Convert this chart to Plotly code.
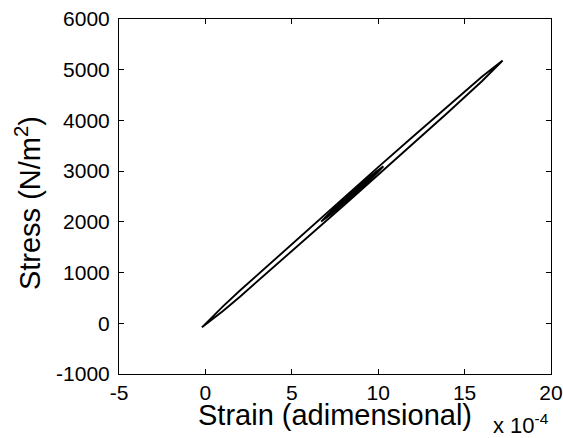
import plotly.graph_objects as go

# Main hysteresis loop (strain in units of 1e-4, stress in N/m^2)
main_strain = [-0.2, 1, 2, 4, 6, 8, 10, 12, 14, 16, 17.2,
               16, 14, 12, 10, 8, 6, 4, 2, 1, -0.2]
main_stress = [-80, 238, 525, 1120, 1719, 2324, 2929, 3536, 4148, 4772, 5180,
               4862, 4278, 3680, 3079, 2474, 1869, 1260, 645, 328, -80]

# Inner minor loops
loop1_strain = [8.5, 9.5, 10.3, 9.5, 8.5, 7.5, 6.7, 7.5, 8.5]
loop1_stress = [2515, 2815, 3094, 2890, 2590, 2285, 2006, 2210, 2515]
loop2_strain = [6.9, 8.0, 9.0, 10.1, 9.0, 8.0, 6.9]
loop2_stress = [2066, 2385, 2690, 3034, 2735, 2430, 2066]
loop3_strain = [7.2, 8.2, 9.3, 10.0, 9.3, 8.2, 7.2]
loop3_stress = [2157, 2455, 2790, 3004, 2825, 2500, 2157]

x_ticks = [-5, 0, 5, 10, 15, 20]
y_ticks = [-1000, 0, 1000, 2000, 3000, 4000, 5000, 6000]

fig = go.Figure()
for xs, ys in [(main_strain, main_stress), (loop1_strain, loop1_stress),
               (loop2_strain, loop2_stress), (loop3_strain, loop3_stress)]:
    fig.add_trace(go.Scatter(x=xs, y=ys, mode="lines",
                             line=dict(color="black", width=1.9),
                             showlegend=False, hoverinfo="skip"))

L, R, T, B = 119, 11.5, 19, 64
W, H = 563, 438
pw, ph = W - L - R, H - T - B

FONT = "Liberation Sans, Arial, Helvetica, sans-serif"

axis_common = dict(showgrid=False, zeroline=False, showline=True, linecolor="black",
                   linewidth=1, mirror="ticks", ticks="inside", ticklen=5,
                   tickcolor="black", automargin=False,
                   tickfont=dict(family=FONT, size=21, color="black"))

fig.update_xaxes(range=[-5, 20], tickvals=x_ticks, ticktext=[str(v) for v in x_ticks], **axis_common)
fig.update_yaxes(range=[-1000, 6000], tickvals=y_ticks, ticktext=[str(v) for v in y_ticks],
                 ticklabelstandoff=4, **axis_common)

def px(xp):
    return (xp - L) / pw

def py(yp):
    return (H - B - yp) / ph

fig.update_layout(
    width=W, height=H,
    margin=dict(l=L, r=R, t=T, b=B, autoexpand=False),
    paper_bgcolor="white", plot_bgcolor="white",
    font=dict(family=FONT, color="black"),
    annotations=[
        dict(text="Strain (adimensional)", xref="paper", yref="paper",
             x=px(196), y=py(415), xanchor="left", yanchor="middle",
             showarrow=False, font=dict(size=29)),
        dict(text="Stress (N/m<sup>2</sup>)", xref="paper", yref="paper",
             x=px(28), y=py(203), xanchor="center", yanchor="middle", textangle=-90,
             showarrow=False, font=dict(size=29)),
        dict(text="x 10<sup>-4</sup>", xref="paper", yref="paper",
             x=px(491), y=py(424), xanchor="left", yanchor="middle",
             showarrow=False, font=dict(size=22)),
    ],
)

fig.write_html("out.html", config={"displayModeBar": False},
               post_script="document.body.style.margin='0';document.body.style.overflow='hidden';")
